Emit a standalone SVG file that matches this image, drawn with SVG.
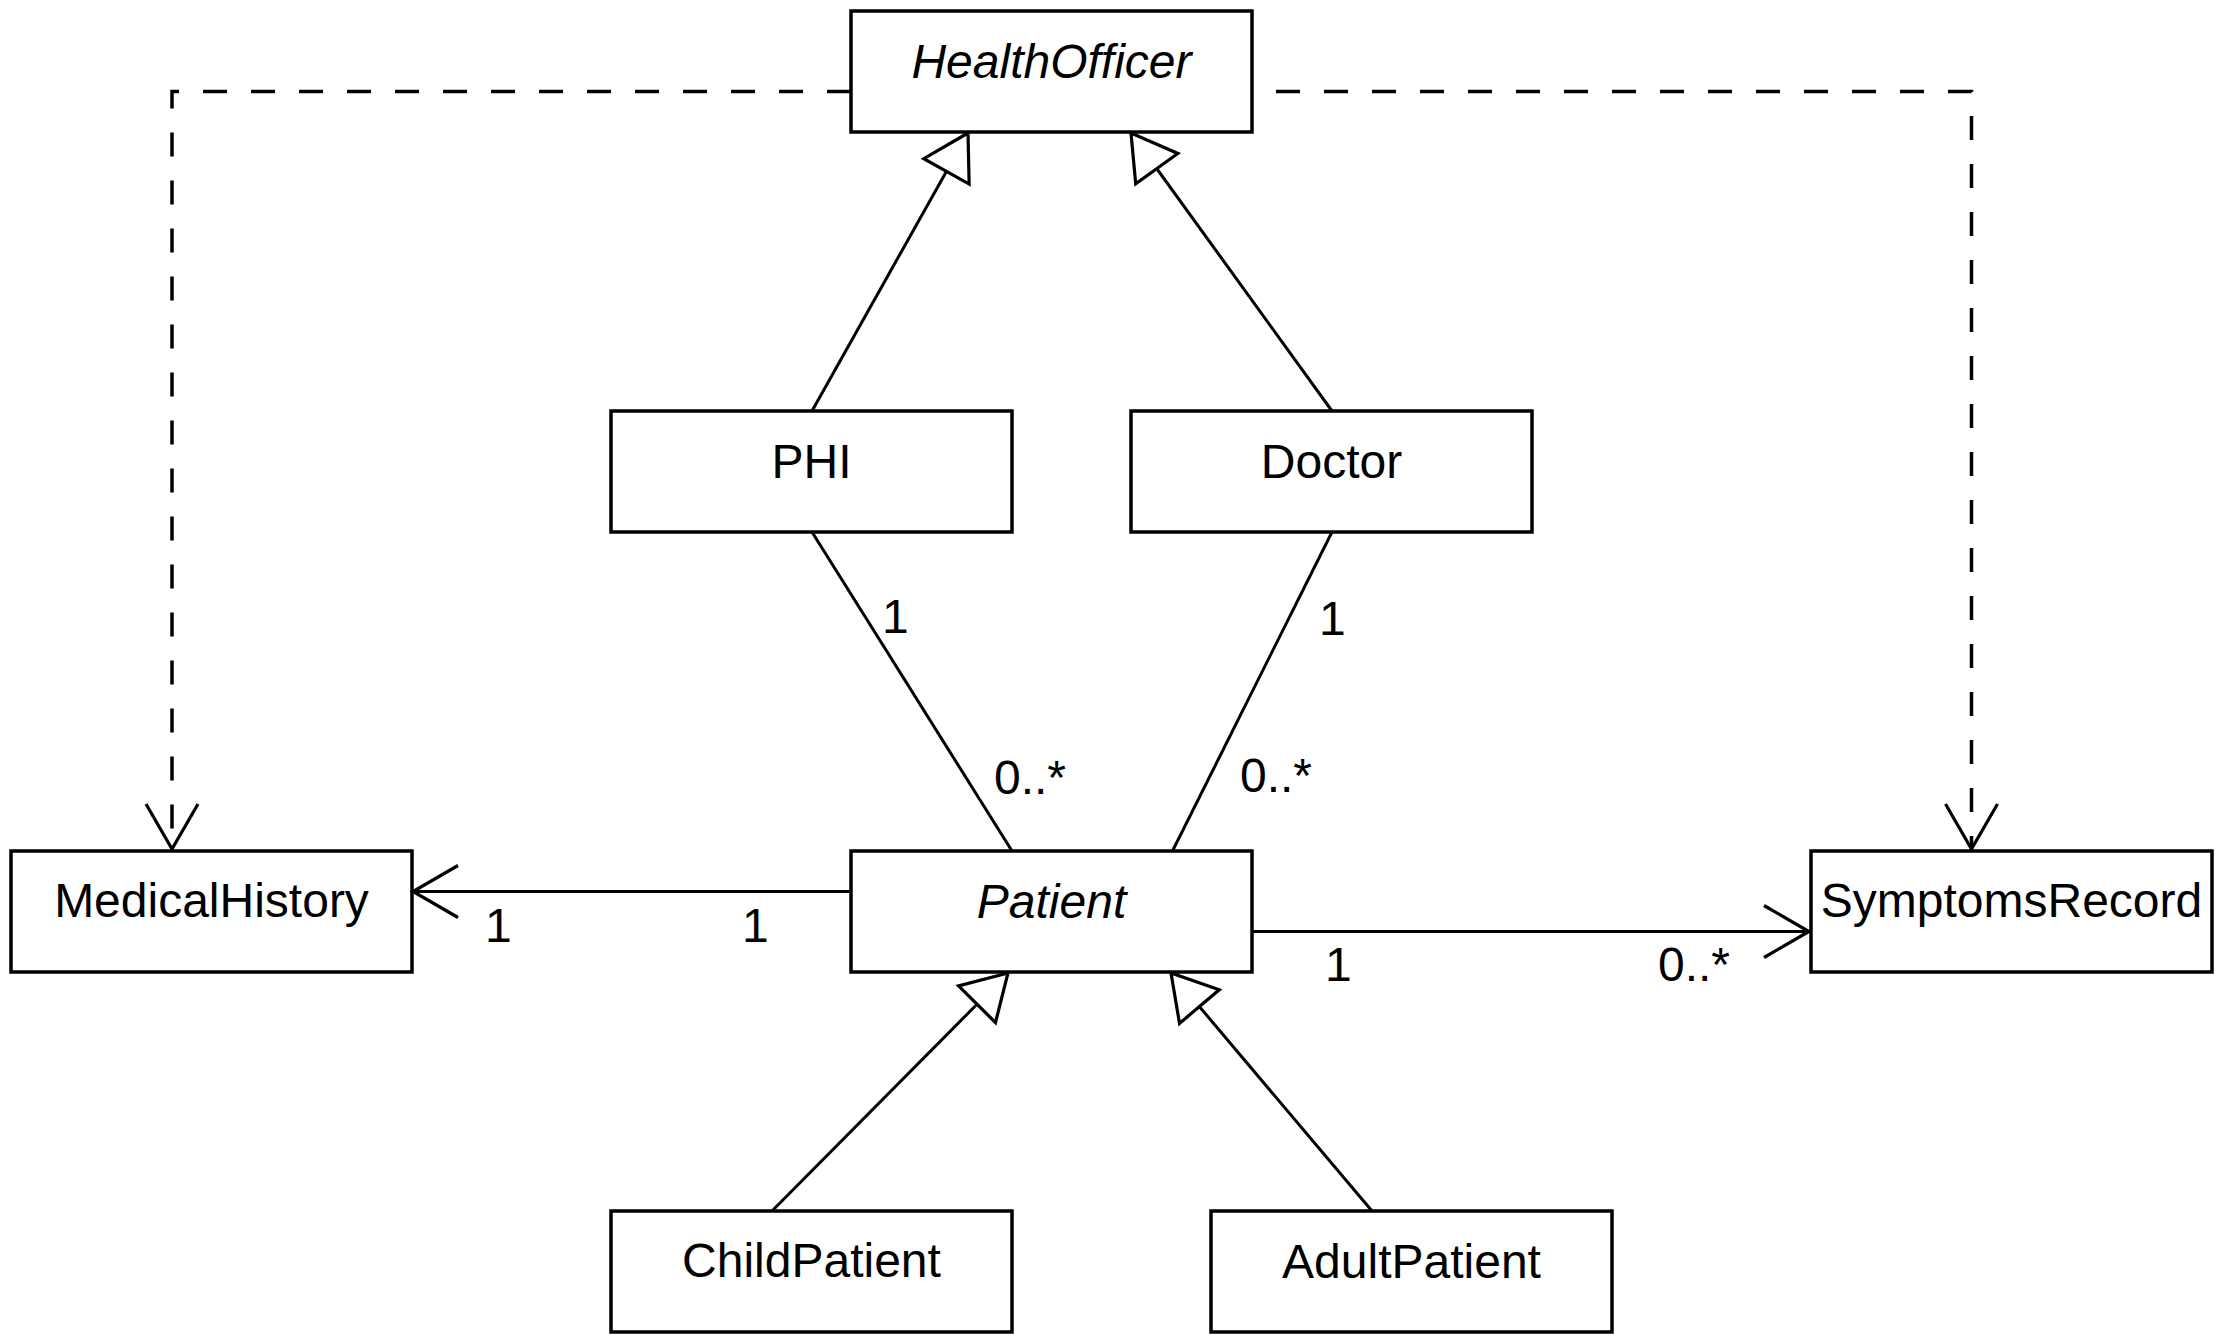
<svg xmlns="http://www.w3.org/2000/svg" width="2220" height="1340" viewBox="0 0 2220 1340">
  <style>
    .box { fill: #ffffff; stroke: #000000; stroke-width: 3.5; }
    .lbl { font-family: "Liberation Sans", Arial, Helvetica, sans-serif; font-size: 48px; fill: #000000; }
    .name { text-anchor: middle; }
    .abstract { font-style: italic; }
    .edge { fill: none; stroke: #000000; stroke-width: 3; }
    .dash { stroke-dasharray: 24 24; stroke-width: 3.5; }
  </style>
  <defs>
    <marker id="openArrow" markerUnits="userSpaceOnUse" viewBox="-50 -32 56 64" markerWidth="56" markerHeight="64" refX="0" refY="0" orient="auto" overflow="visible">
      <path d="M-45,-26 L0,0 L-45,26" fill="none" stroke="#000000" stroke-width="3.2" stroke-dasharray="none"/>
    </marker>
    <marker id="hollowTriangle" markerUnits="userSpaceOnUse" viewBox="-50 -32 56 64" markerWidth="56" markerHeight="64" refX="0" refY="0" orient="auto" overflow="visible">
      <path d="M0,0 L-44,-26 L-44,26 Z" fill="#ffffff" stroke="#000000" stroke-width="3.2" stroke-linejoin="miter"/>
    </marker>
  </defs>
  <rect x="0" y="0" width="2220" height="1340" fill="#ffffff"/>

  <g id="nodes">
    <g id="node-healthofficer">
      <rect class="box" x="851" y="11" width="401" height="121"/>
      <text class="lbl name abstract" x="1051.5" y="78">HealthOfficer</text>
    </g>
    <g id="node-phi">
      <rect class="box" x="611" y="411" width="401" height="121"/>
      <text class="lbl name" x="811.5" y="478">PHI</text>
    </g>
    <g id="node-doctor">
      <rect class="box" x="1131" y="411" width="401" height="121"/>
      <text class="lbl name" x="1331.5" y="478">Doctor</text>
    </g>
    <g id="node-medicalhistory">
      <rect class="box" x="11" y="851" width="401" height="121"/>
      <text class="lbl name" x="211.5" y="917">MedicalHistory</text>
    </g>
    <g id="node-patient">
      <rect class="box" x="851" y="851" width="401" height="121"/>
      <text class="lbl name abstract" x="1051.5" y="918">Patient</text>
    </g>
    <g id="node-symptomsrecord">
      <rect class="box" x="1811" y="851" width="401" height="121"/>
      <text class="lbl name" x="2011.5" y="917">SymptomsRecord</text>
    </g>
    <g id="node-childpatient">
      <rect class="box" x="611" y="1211" width="401" height="121"/>
      <text class="lbl name" x="811.5" y="1277">ChildPatient</text>
    </g>
    <g id="node-adultpatient">
      <rect class="box" x="1211" y="1211" width="401" height="121"/>
      <text class="lbl name" x="1411.5" y="1278">AdultPatient</text>
    </g>
  </g>

  <g id="connectors">
    <!-- generalizations -->
    <path class="edge" d="M812,411 L968,133" marker-end="url(#hollowTriangle)"/>
    <path class="edge" d="M1332,411 L1131,133" marker-end="url(#hollowTriangle)"/>
    <path class="edge" d="M772,1211 L1008,973" marker-end="url(#hollowTriangle)"/>
    <path class="edge" d="M1372,1211 L1171,973" marker-end="url(#hollowTriangle)"/>
    <!-- associations -->
    <path class="edge" d="M812,532 L1012,851"/>
    <path class="edge" d="M1332,532 L1172.5,851"/>
    <path class="edge" d="M851,891.5 L413,891.5" marker-end="url(#openArrow)"/>
    <path class="edge" d="M1252,931.5 L1809,931.5" marker-end="url(#openArrow)"/>
    <!-- dependencies -->
    <path class="edge dash" d="M851,91.5 L172,91.5 L172,849" marker-end="url(#openArrow)"/>
    <path class="edge dash" style="stroke-dashoffset:24" d="M1252,91.5 L1971.5,91.5 L1971.5,849" marker-end="url(#openArrow)"/>
    <!-- multiplicities -->
    <text class="lbl" x="882" y="633">1</text>
    <text class="lbl" x="994" y="794">0..*</text>
    <text class="lbl" x="1319" y="635">1</text>
    <text class="lbl" x="1240" y="792">0..*</text>
    <text class="lbl" x="485" y="942">1</text>
    <text class="lbl" x="742" y="942">1</text>
    <text class="lbl" x="1325" y="981">1</text>
    <text class="lbl" x="1658" y="981">0..*</text>
  </g>
</svg>
